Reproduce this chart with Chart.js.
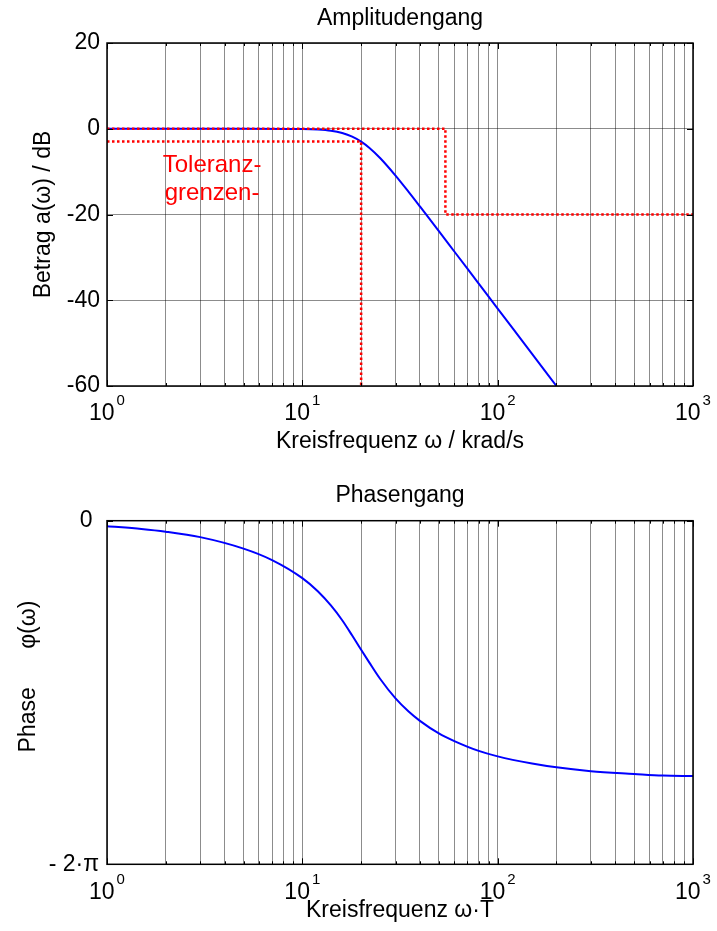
<!DOCTYPE html>
<html>
<head>
<meta charset="utf-8">
<script src="https://cdn.jsdelivr.net/npm/chart.js@4.4.1/dist/chart.umd.min.js"></script>
<style>
    body { margin: 0; background: #fff; }
    .caja { position: absolute; left: 0; width: 717px; }
</style>
</head>
<body>
<div class="caja" style="top:0; height:465px;"><canvas id="graficaAmplitud"></canvas></div>
<div class="caja" style="top:465px; height:466px;"><canvas id="graficaFase"></canvas></div>
<script>
// Amplitudengang
const ampW = [1, 5, 10, 12, 14, 16, 18, 20, 22, 25, 30, 35, 40, 50, 60, 70, 80, 100, 120, 150, 200];
const ampDb = [0, 0, -0.07, -0.2, -0.48, -1.01, -1.85, -3.01, -4.43, -6.83, -10.93, -14.73, -18.13, -23.89, -28.63, -32.64, -36.12, -41.94, -46.69, -52.5, -60];

// Toleranzgrenzen
const tolObenW = [1, 54, 54, 1000];
const tolObenDb = [0, 0, -20, -20];
const tolUntenW = [1, 20, 20];
const tolUntenDb = [-3, -3, -60];
const notaTexto = ["Toleranz-", "grenzen-"];
const notaW = 3.45;
const notaDb = [-8.6, -15.1];

// Phasengang
const faseW = [1, 1.5, 2, 3, 5, 7, 10, 12, 14, 16, 18, 20, 22, 25, 30, 35, 40, 50, 60, 80, 100, 150, 200, 300, 500, 700, 1000];
const faseRad = [-0.10, -0.15, -0.20, -0.30, -0.51, -0.72, -1.05, -1.29, -1.55, -1.82, -2.10, -2.36, -2.59, -2.89, -3.25, -3.49, -3.66, -3.89, -4.03, -4.21, -4.31, -4.44, -4.51, -4.58, -4.63, -4.66, -4.67];

// Achsen
const xTicks = [1, 2, 3, 4, 5, 6, 7, 8, 9, 10, 20, 30, 40, 50, 60, 70, 80, 90, 100, 200, 300, 400, 500, 600, 700, 800, 900, 1000];
const xDecadas = [1, 10, 100, 1000];
const xExponentes = ["0", "1", "2", "3"];
const ampTicks = [-60, -40, -20, 0, 20];
const faseTicks = [-2 * Math.PI, 0];
const faseEtiquetas = ["- 2·\u03c0", "0 "];

const fuente = "'Liberation Sans', Arial, sans-serif";
const tam = 23;
Chart.defaults.color = "#000";
Chart.defaults.font.family = fuente;

const puntos = (xs, ys) => xs.map((x, i) => ({ x: x, y: ys[i] }));

// marco, marcas internas y etiquetas 10^n
const marco = {
    id: "marco",
    afterDraw(chart, args, opts) {
        const ctx = chart.ctx;
        const a = chart.chartArea;
        const sx = chart.scales.x;
        const sy = chart.scales.y;
        ctx.save();
        ctx.strokeStyle = "#000";
        ctx.lineWidth = 1;
        sx.ticks.forEach(t => {
            const px = Math.round(sx.getPixelForValue(t.value)) + 0.5;
            const largo = xDecadas.includes(t.value) ? 6 : 3;
            ctx.beginPath();
            ctx.moveTo(px, a.bottom); ctx.lineTo(px, a.bottom - largo);
            ctx.moveTo(px, a.top); ctx.lineTo(px, a.top + largo);
            ctx.stroke();
        });
        sy.ticks.forEach(t => {
            const py = Math.round(sy.getPixelForValue(t.value)) + 0.5;
            ctx.beginPath();
            ctx.moveTo(a.left, py); ctx.lineTo(a.left + 6, py);
            ctx.moveTo(a.right, py); ctx.lineTo(a.right - 6, py);
            ctx.stroke();
        });
        ctx.lineWidth = 1.5;
        ctx.strokeRect(a.left, a.top, a.right - a.left, a.bottom - a.top);

        ctx.fillStyle = "#000";
        ctx.textBaseline = "alphabetic";
        ctx.textAlign = "left";
        xDecadas.forEach((v, i) => {
            const px = sx.getPixelForValue(v);
            ctx.font = tam + "px " + fuente;
            const w1 = ctx.measureText("10").width;
            ctx.font = "15px " + fuente;
            const w2 = ctx.measureText(xExponentes[i]).width;
            const x0 = px - (w1 + 2 + w2) / 2;
            const base = a.bottom + opts.base;
            ctx.font = tam + "px " + fuente;
            ctx.fillText("10", x0, base);
            ctx.font = "15px " + fuente;
            ctx.fillText(xExponentes[i], x0 + w1 + 2, base - opts.exp);
        });

        if (opts.nota) {
            ctx.fillStyle = "#ff0000";
            ctx.textAlign = "center";
            ctx.textBaseline = "middle";
            ctx.font = "24px " + fuente;
            notaTexto.forEach((txt, i) => {
                ctx.fillText(txt, sx.getPixelForValue(notaW), sy.getPixelForValue(notaDb[i]));
            });
        }
        ctx.restore();
    }
};

const rejilla = { color: "rgba(0,0,0,0.45)", lineWidth: 1, drawTicks: false };

function ejeX(titulo, alto, padAbajo) {
    return {
        type: "logarithmic",
        min: 1,
        max: 1000,
        afterBuildTicks: s => { s.ticks = xTicks.map(v => ({ value: v })); },
        afterFit: s => { s.height = alto; },
        ticks: { display: false },
        grid: rejilla,
        border: { display: false },
        title: { display: true, text: titulo, font: { size: tam }, padding: { top: 0, bottom: padAbajo } }
    };
}

// eje superior solo para el titulo, centrado sobre el area del grafico
function ejeTitulo(titulo, alto, padArriba) {
    return {
        type: "linear",
        position: "top",
        display: true,
        afterFit: s => { s.height = alto; },
        ticks: { display: false },
        grid: { display: false, drawTicks: false },
        border: { display: false },
        title: { display: true, text: titulo, font: { size: tam }, padding: { top: padArriba, bottom: 0 } }
    };
}

new Chart(document.getElementById("graficaAmplitud"), {
    type: "line",
    data: {
        datasets: [
            {
                data: puntos(tolObenW, tolObenDb),
                borderColor: "#ff0000",
                borderWidth: 2.5,
                borderDash: [2.5, 2.5],
                pointRadius: 0,
                fill: false
            },
            {
                data: puntos(tolUntenW, tolUntenDb),
                borderColor: "#ff0000",
                borderWidth: 2.5,
                borderDash: [2.5, 2.5],
                pointRadius: 0,
                fill: false
            },
            {
                data: puntos(ampW, ampDb),
                borderColor: "#0000ff",
                borderWidth: 2,
                pointRadius: 0,
                cubicInterpolationMode: "monotone",
                fill: false
            }
        ]
    },
    options: {
        responsive: true,
        maintainAspectRatio: false,
        animation: false,
        layout: { padding: { left: 0, right: 24, top: 0, bottom: 0 } },
        plugins: {
            legend: { display: false },
            tooltip: { enabled: false },
            marco: { base: 34, exp: 15, nota: true }
        },
        scales: {
            x: ejeX("Kreisfrequenz \u03c9 / krad/s", 79, 10),
            arriba: ejeTitulo("Amplitudengang", 43, 4.5),
            y: {
                min: -60,
                max: 20,
                afterBuildTicks: s => { s.ticks = ampTicks.map(v => ({ value: v })); },
                afterFit: s => { s.width = 107; },
                ticks: { font: { size: tam }, padding: 7 },
                grid: rejilla,
                border: { display: false },
                title: { display: true, text: "Betrag a(\u03c9) / dB", font: { size: tam }, padding: { top: 30, bottom: 0 } }
            }
        }
    },
    plugins: [marco]
});

new Chart(document.getElementById("graficaFase"), {
    type: "line",
    data: {
        datasets: [
            {
                data: puntos(faseW, faseRad),
                borderColor: "#0000ff",
                borderWidth: 2,
                pointRadius: 0,
                cubicInterpolationMode: "monotone",
                fill: false
            }
        ]
    },
    options: {
        responsive: true,
        maintainAspectRatio: false,
        animation: false,
        layout: { padding: { left: 0, right: 24, top: 0, bottom: 0 } },
        plugins: {
            legend: { display: false },
            tooltip: { enabled: false },
            marco: { base: 35, exp: 15, nota: false }
        },
        scales: {
            x: ejeX("Kreisfrequenz \u03c9\u00b7T", 66.7, 7),
            arriba: ejeTitulo("Phasengang", 55.7, 17),
            y: {
                min: -2 * Math.PI,
                max: 0,
                afterBuildTicks: s => { s.ticks = faseTicks.map(v => ({ value: v })); },
                afterFit: s => { s.width = 107; },
                ticks: {
                    font: { size: tam },
                    padding: 8,
                    callback: (v, i) => faseEtiquetas[i]
                },
                grid: rejilla,
                border: { display: false },
                title: { display: true, text: "     Phase      \u03c6(\u03c9)", font: { size: tam }, padding: { top: 15, bottom: 0 } }
            }
        }
    },
    plugins: [marco]
});
</script>
</body>
</html>
